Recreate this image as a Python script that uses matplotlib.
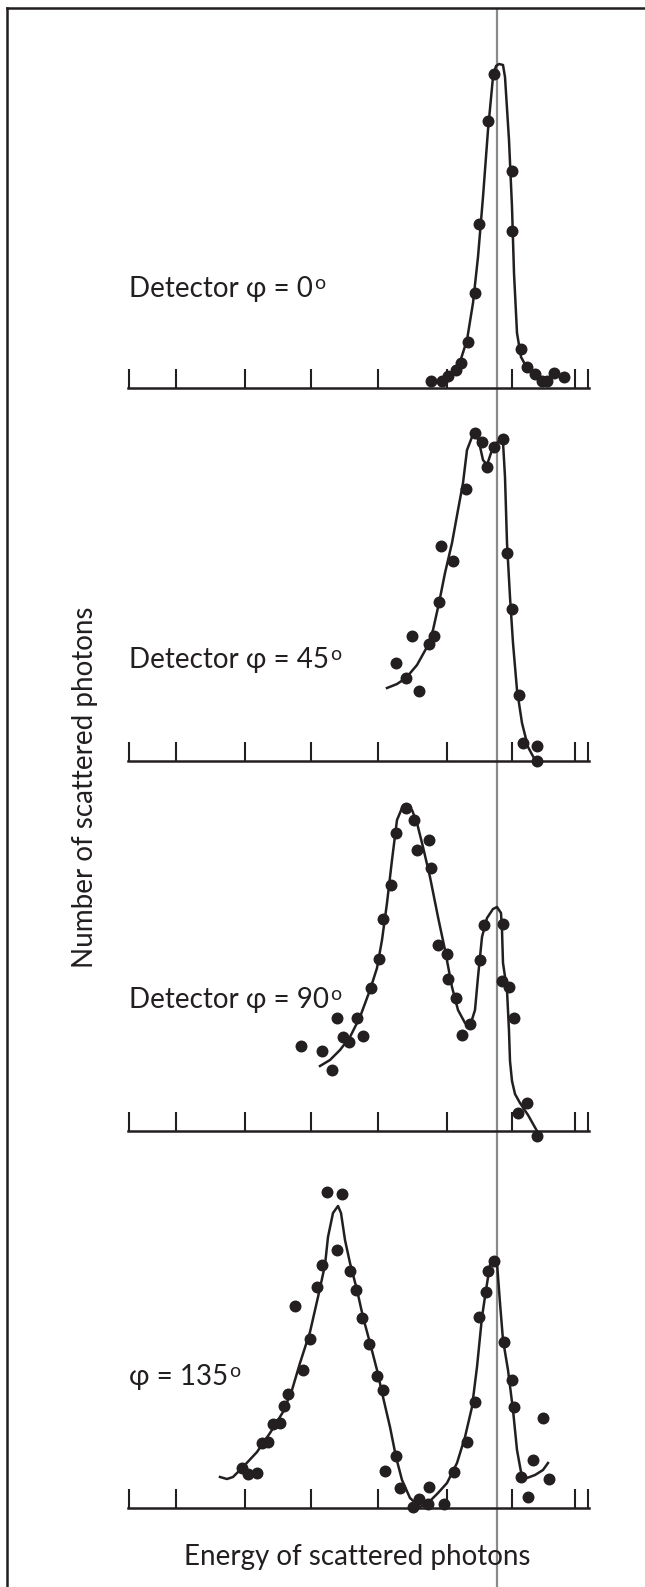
"""
Compton-scattering spectra at four detector angles, stacked panels.
Points = measured counts, line = hand-drawn fit, gray line = unshifted energy.
"""

import matplotlib
matplotlib.use("Agg")
import matplotlib.pyplot as plt
from matplotlib.lines import Line2D

plt.rcParams['font.family'] = ['Lato', 'DejaVu Sans']

INK = "#231f20"
REF_GRAY = "#8a8a8a"

# energy axis (arbitrary channels)
TICK_POS = [0, 47, 116, 182, 249, 318, 383, 446, 459]
E_REF = 368  # energy of the incident (unscattered) line

# phi = 0
P0_X = [302, 313, 319, 327, 332, 339, 346, 350, 359, 365, 383, 383, 392, 398, 406, 413, 418, 425, 435]
P0_Y = [7, 7, 12, 18, 25, 46, 95, 164, 267, 314, 217, 157, 39, 21, 14, 7, 7, 15, 11]
P0_FIT_X = [311, 321, 331, 338, 344, 349, 354, 359, 364, 367, 370, 374, 376, 380, 383, 385,
            388, 392, 398, 406, 414, 421]
P0_FIT_Y = [3, 11, 26, 48, 85, 131, 191, 258, 311, 322, 324, 323, 311, 248, 181, 115,
            55, 31, 20, 11, 6, 7]

# phi = 45
P45_X = [346, 353, 358, 365, 374, 337, 312, 324, 310, 305, 300, 283, 267, 277, 290, 378, 383,
         390, 394, 408, 408]
P45_Y = [328, 319, 294, 314, 322, 272, 215, 200, 159, 125, 117, 125, 98, 83, 70, 208, 152,
         66, 18, 15, 0]
P45_FIT_X = [258, 268, 277, 288, 298, 304, 310, 316, 323, 329, 334, 338, 343, 347, 350, 354,
             358, 362, 366, 371, 374, 376, 378, 381, 384, 388, 393, 399, 406]
P45_FIT_Y = [73, 77, 83, 96, 114, 131, 158, 188, 218, 251, 278, 311, 324, 326, 319, 301,
             296, 308, 316, 321, 319, 284, 218, 164, 118, 71, 38, 14, 1]

# phi = 90
P90_X = [172, 193, 203, 208, 214, 220, 228, 234, 242, 250, 254, 262, 267, 277, 285, 288, 300,
         302, 309, 318, 319, 327, 333, 341, 351, 355, 374, 373, 380, 385, 398, 389, 408]
P90_Y = [85, 80, 61, 113, 94, 89, 113, 95, 143, 172, 212, 246, 298, 323, 311, 281, 291,
         263, 186, 177, 152, 133, 96, 107, 171, 206, 207, 150, 144, 113, 28, 18, -5]
P90_FIT_X = [191, 201, 211, 221, 231, 241, 248, 253, 258, 263, 268, 273, 278, 283, 288, 294,
             301, 309, 316, 323, 329, 336, 341, 346, 349, 353, 358, 364, 368, 372, 373, 374,
             378, 380, 381, 383, 386, 391, 399, 408]
P90_FIT_Y = [65, 71, 81, 94, 114, 141, 163, 191, 228, 271, 311, 323, 325, 321, 308, 284,
             254, 214, 181, 144, 121, 108, 105, 121, 154, 194, 213, 222, 224, 218, 201, 168,
             141, 100, 70, 50, 37, 28, 16, 0]

# phi = 135
P135_X = [198, 213, 208, 193, 188, 166, 181, 174, 159, 155, 151, 144, 139, 133, 113, 119, 128,
          221, 227, 233, 240, 248, 254, 267, 256, 271, 300, 290, 284, 299, 315, 325, 338,
          346, 350, 357, 359, 365, 375, 383, 385, 414, 404, 392, 420, 399]
P135_Y = [316, 314, 258, 243, 221, 202, 169, 138, 114, 102, 85, 84, 66, 65, 40, 34, 35,
          237, 218, 190, 164, 132, 118, 52, 37, 20, 21, 9, 1, 4, 4, 36, 66,
          106, 191, 216, 237, 247, 166, 128, 101, 90, 48, 31, 29, 11]
P135_FIT_X = [91, 98, 104, 114, 128, 141, 154, 163, 171, 181, 189, 196, 199, 204, 209, 212,
              216, 221, 228, 234, 241, 248, 254, 261, 267, 273, 281, 291, 299, 309, 318, 328,
              336, 343, 348, 353, 357, 361, 365, 368, 371, 374, 379, 384, 388, 392, 398, 406,
              414, 419]
P135_FIT_Y = [31, 29, 31, 41, 56, 75, 96, 118, 145, 176, 211, 243, 271, 295, 302, 295,
              268, 245, 218, 191, 165, 138, 111, 81, 51, 28, 10, 1, 5, 15, 25, 45,
              71, 101, 141, 191, 218, 243, 248, 245, 205, 168, 138, 98, 58, 36, 30, 33,
              38, 45]

# the trailing superscript "o" is drawn as a separate small text after each label
LABELS = ["Detector φ = 0", "Detector φ = 45", "Detector φ = 90", "φ = 135"]
DEG_MARK = "o"

# layout (pixels in the 645 x 1587 output)
W, H = 645, 1587
BASELINES = [388, 761, 1131, 1508]
LABEL_Y = [91, 93, 123, 123]
AX_LEFT, AX_RIGHT = 100, 620
X0_PX = 129           # pixel column of energy 0
PANEL_H = 360
FS = 20

panels = [
    (P0_X, P0_Y, P0_FIT_X, P0_FIT_Y),
    (P45_X, P45_Y, P45_FIT_X, P45_FIT_Y),
    (P90_X, P90_Y, P90_FIT_X, P90_FIT_Y),
    (P135_X, P135_Y, P135_FIT_X, P135_FIT_Y),
]

fig = plt.figure(figsize=(W / 100, H / 100), dpi=100)
xlim = (AX_LEFT - X0_PX, AX_RIGHT - X0_PX)

# gray reference line running through all panels, underneath everything
ref_ax = fig.add_axes([AX_LEFT / W, 0, (AX_RIGHT - AX_LEFT) / W, 1 - 8 / H], zorder=0)
ref_ax.set_xlim(xlim)
ref_ax.axvline(E_REF, color=REF_GRAY, lw=1.6)
ref_ax.axis("off")

for (px, py, fx, fy), label, base, ly in zip(panels, LABELS, BASELINES, LABEL_Y):
    ax = fig.add_axes([AX_LEFT / W, 1 - base / H, (AX_RIGHT - AX_LEFT) / W, PANEL_H / H], zorder=1)
    ax.set_facecolor("none")
    ax.set_xlim(xlim)
    ax.set_ylim(0, PANEL_H)
    ax.plot(fx, fy, "-", color=INK, lw=1.8, clip_on=False, solid_joinstyle="round")
    ax.plot(px, py, "o", color=INK, ms=8.6, mew=0, clip_on=False, zorder=3)
    txt = ax.text(0, ly, label, fontsize=FS, color=INK, ha="left", va="baseline")
    # small raised "o" right after the number (degree mark)
    ax.annotate(DEG_MARK, xy=(1, 1), xycoords=txt, xytext=(0.8, 0.5),
                textcoords="offset points", fontsize=FS * 0.7, color=INK,
                ha="left", va="top")

    for side in ("top", "right", "left"):
        ax.spines[side].set_visible(False)
    ax.spines["bottom"].set_bounds(-1, 460)
    ax.spines["bottom"].set_linewidth(1.8)
    ax.spines["bottom"].set_color(INK)
    ax.set_xticks(TICK_POS)
    ax.set_yticks([])
    ax.tick_params(axis="x", direction="in", length=13.5, width=1.5,
                   color=INK, labelbottom=False)

fig.text(357 / W, 1 - 1557 / H, "Energy of scattered photons", fontsize=FS, color=INK,
         ha="center", va="center")
fig.text(85 / W, 1 - 787 / H, "Number of scattered photons", fontsize=FS, color=INK,
         ha="center", va="center", rotation=90)

# figure frame (only top and left edges are visible in the crop)
fig.add_artist(Line2D([7 / W, 7 / W], [0, 1 - 8 / H], color=INK, lw=1.8))
fig.add_artist(Line2D([7 / W, 1], [1 - 8 / H, 1 - 8 / H], color=INK, lw=1.8))

fig.savefig("out.png", dpi=100)
